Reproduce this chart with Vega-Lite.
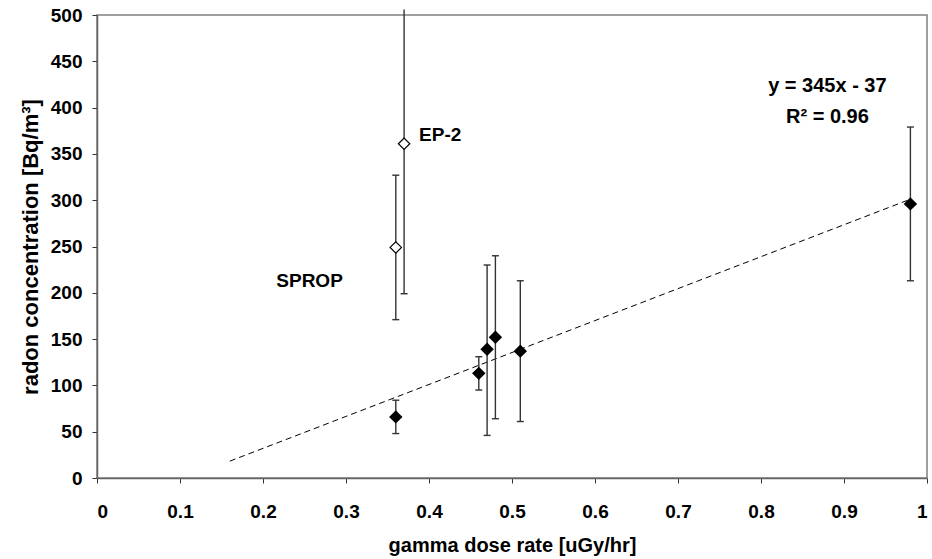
{
  "$schema": "https://vega.github.io/schema/vega-lite/v6.json",
  "width": 830,
  "height": 463,
  "autosize": {"type": "none"},
  "padding": {"left": 97, "top": 15, "right": 5, "bottom": 81},
  "background": "white",
  "config": {
    "font": "Liberation Sans",
    "view": {"stroke": "#808080", "strokeWidth": 1.5},
    "axis": {
      "grid": false,
      "domainColor": "#666666",
      "domainWidth": 1.5,
      "tickColor": "#333333",
      "tickSize": 5,
      "labelFont": "Liberation Sans",
      "labelFontWeight": "bold",
      "labelFontSize": 19,
      "labelColor": "#000000",
      "titleFont": "Liberation Sans",
      "titleFontWeight": "bold",
      "titleFontSize": 20,
      "titleColor": "#000000"
    }
  },
  "datasets": {
    "points": [
      {"dose": 0.36, "radon": 66, "lo": 48, "hi": 84, "kind": "filled", "capTop": true},
      {"dose": 0.46, "radon": 113, "lo": 95, "hi": 131, "kind": "filled", "capTop": true},
      {"dose": 0.47, "radon": 139, "lo": 46, "hi": 230, "kind": "filled", "capTop": true},
      {"dose": 0.48, "radon": 152, "lo": 64, "hi": 240, "kind": "filled", "capTop": true},
      {"dose": 0.51, "radon": 137, "lo": 61, "hi": 213, "kind": "filled", "capTop": true},
      {"dose": 0.98, "radon": 296, "lo": 213, "hi": 379, "kind": "filled", "capTop": true},
      {"dose": 0.36, "radon": 249, "lo": 171, "hi": 327, "kind": "hollow", "capTop": true},
      {"dose": 0.37, "radon": 361, "lo": 199, "hi": 506, "kind": "hollow", "capTop": false}
    ],
    "trend": [
      {"dose": 0.16, "radon": 18.2},
      {"dose": 0.98, "radon": 301.1}
    ],
    "labelsLeft": [
      {"dose": 0.216, "radon": 213, "label": "SPROP"},
      {"dose": 0.388, "radon": 370, "label": "EP-2"}
    ],
    "labelsCenter": [
      {"dose": 0.88, "radon": 423, "label": "y = 345x - 37"},
      {"dose": 0.88, "radon": 390, "label": "R² = 0.96"}
    ]
  },
  "encoding": {
    "x": {
      "field": "dose",
      "type": "quantitative",
      "scale": {"domain": [0, 1], "nice": false, "zero": false},
      "axis": {
        "title": "gamma dose rate [uGy/hr]",
        "values": [0, 0.1, 0.2, 0.3, 0.4, 0.5, 0.6, 0.7, 0.8, 0.9, 1],
        "format": "~g",
        "labelPadding": 19,
        "titlePadding": 14
      }
    }
  },
  "layer": [
    {
      "data": {"name": "trend"},
      "mark": {"type": "line", "color": "#000000", "strokeWidth": 1, "strokeDash": [6, 4]},
      "encoding": {
        "y": {
          "field": "radon",
          "type": "quantitative",
          "scale": {"domain": [0, 500], "nice": false},
          "axis": {
            "title": "radon concentration [Bq/m³]",
            "values": [0, 50, 100, 150, 200, 250, 300, 350, 400, 450, 500],
            "labelPadding": 10,
            "titlePadding": 8,
            "titleFontSize": 22
          }
        }
      }
    },
    {
      "data": {"name": "points"},
      "mark": {"type": "rule", "color": "#333333", "strokeWidth": 1.4},
      "encoding": {
        "y": {"field": "lo", "type": "quantitative"},
        "y2": {"field": "hi"}
      }
    },
    {
      "data": {"name": "points"},
      "mark": {"type": "point", "shape": "stroke", "size": 49, "filled": false, "color": "#333333", "strokeWidth": 1.4, "opacity": 1},
      "encoding": {
        "y": {"field": "lo", "type": "quantitative"}
      }
    },
    {
      "data": {"name": "points"},
      "transform": [{"filter": "datum.capTop"}],
      "mark": {"type": "point", "shape": "stroke", "size": 49, "filled": false, "color": "#333333", "strokeWidth": 1.4, "opacity": 1},
      "encoding": {
        "y": {"field": "hi", "type": "quantitative"}
      }
    },
    {
      "data": {"name": "points"},
      "transform": [{"filter": "datum.kind == 'filled'"}],
      "mark": {"type": "point", "shape": "diamond", "size": 180, "filled": true, "color": "#000000", "opacity": 1},
      "encoding": {
        "y": {"field": "radon", "type": "quantitative"}
      }
    },
    {
      "data": {"name": "points"},
      "transform": [{"filter": "datum.kind == 'hollow'"}],
      "mark": {"type": "point", "shape": "diamond", "size": 130, "filled": false, "fill": "#ffffff", "fillOpacity": 1, "stroke": "#000000", "strokeWidth": 1.2, "opacity": 1},
      "encoding": {
        "y": {"field": "radon", "type": "quantitative"}
      }
    },
    {
      "data": {"name": "labelsLeft"},
      "mark": {"type": "text", "align": "left", "baseline": "middle", "font": "Liberation Sans", "fontWeight": "bold", "fontSize": 19, "color": "#000000"},
      "encoding": {
        "y": {"field": "radon", "type": "quantitative"},
        "text": {"field": "label"}
      }
    },
    {
      "data": {"name": "labelsCenter"},
      "mark": {"type": "text", "align": "center", "baseline": "middle", "font": "Liberation Sans", "fontWeight": "bold", "fontSize": 20, "color": "#000000"},
      "encoding": {
        "y": {"field": "radon", "type": "quantitative"},
        "text": {"field": "label"}
      }
    }
  ]
}
